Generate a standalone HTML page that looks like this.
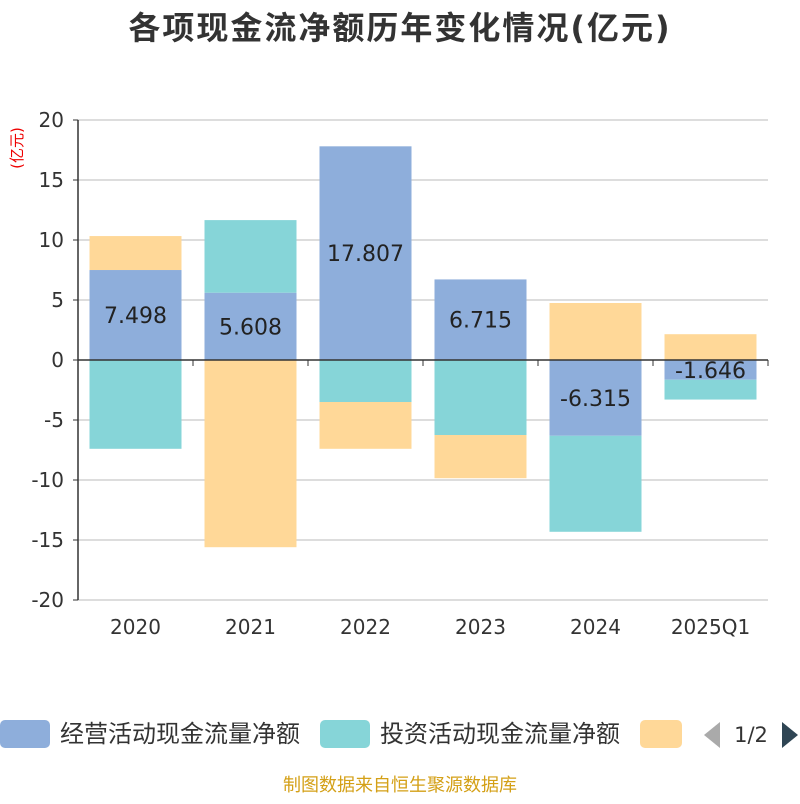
<!DOCTYPE html>
<html><head><meta charset="utf-8">
<style>
body{margin:0;background:#fff;width:800px;height:800px;overflow:hidden;font-family:"DejaVu Sans","Noto Sans CJK SC",sans-serif;}
</style></head>
<body>
<svg id="chart" width="800" height="800" xmlns="http://www.w3.org/2000/svg" font-family="DejaVu Sans, Noto Sans CJK SC, sans-serif">
<text x="400" y="39" text-anchor="middle" font-size="32" letter-spacing="2" font-weight="bold" fill="#333">各项现金流净额历年变化情况(亿元)</text>
<text transform="translate(22,148) rotate(-90)" text-anchor="middle" font-size="15" fill="#e00">(亿元)</text>
<g id="grid"></g><g id="bars"></g><g id="labels"></g><g id="axes"></g>
<g>
<rect x="0" y="720" width="50" height="28" rx="5" fill="#8eaedb"/>
<text x="60" y="742" font-size="24" fill="#333">经营活动现金流量净额</text>
<rect x="320" y="720" width="50" height="28" rx="5" fill="#86d5d8"/>
<text x="380" y="742" font-size="24" fill="#333">投资活动现金流量净额</text>
<rect x="640" y="720" width="42" height="28" rx="5" fill="#ffd898"/>
<polygon points="720,722 720,748 704,735" fill="#aaa"/>
<text x="751" y="742" text-anchor="middle" font-size="21" fill="#333">1/2</text>
<polygon points="782,722 782,748 798,735" fill="#2f4554"/>
</g>
<text x="400" y="791" text-anchor="middle" font-size="18" fill="#d4a017">制图数据来自恒生聚源数据库</text>
</svg>
<script>
const categories=["2020","2021","2022","2023","2024","2025Q1"];
const operating=[7.498,5.608,17.807,6.715,-6.315,-1.646];
const investing=[-7.4,6.05,-3.5,-6.25,-8.0,-1.65];
const financing=[2.83,-15.6,-3.9,-3.6,4.75,2.15];
const yTicks=[20,15,10,5,0,-5,-10,-15,-20];
const NS="http://www.w3.org/2000/svg";
const x0=78,x1=768,yTop=120,yBot=600,yMax=20,yMin=-20;
const bw=(x1-x0)/categories.length;
function y(v){return yTop+(yMax-v)/(yMax-yMin)*(yBot-yTop);}
function xc(i){return x0+bw*(i+0.5);}
function mk(tag,attrs,parent){const e=document.createElementNS(NS,tag);for(const k in attrs)e.setAttribute(k,attrs[k]);document.getElementById(parent).appendChild(e);return e;}
yTicks.forEach(t=>{
 const l=mk('line',{x1:x0,x2:x1,y1:y(t),y2:y(t),stroke:'#bbb','stroke-width':1},'grid');
 
 
 const tx=mk('text',{x:64,y:y(t)+7,'text-anchor':'end','font-size':20,fill:'#333'},'axes');
 tx.textContent=t;
 
 
 const tk=mk('line',{x1:x0-5,x2:x0,y1:y(t),y2:y(t),stroke:'#333'},'axes');
 
 
});
const ya=mk('line',{x1:x0,x2:x0,y1:yTop,y2:yBot,stroke:'#333','stroke-width':1.5},'axes');


const xa=mk('line',{x1:x0,x2:x1,y1:y(0),y2:y(0),stroke:'#333','stroke-width':1.5},'axes');


for(let i=0;i<=categories.length;i++){
 const tk=mk('line',{x1:x0+bw*i,x2:x0+bw*i,y1:y(0),y2:y(0)+6,stroke:'#333'},'axes');
 
 
}
const series=[[operating,'#8eaedb','operating'],[investing,'#86d5d8','investing'],[financing,'#ffd898','financing']];
const w=92;
categories.forEach((c,i)=>{
 let pos=0,neg=0;
 series.forEach(([arr,col,nm])=>{
  const v=arr[i];let a,b;
  if(v>=0){a=pos;b=pos+v;pos=b;}else{a=neg;b=neg+v;neg=b;}
  const top=y(Math.max(a,b)),bot=y(Math.min(a,b));
  const r=mk('rect',{x:xc(i)-w/2,y:top,width:w,height:bot-top,fill:col},'bars');
  
  
 });
 const v=operating[i];
 const t=mk('text',{x:xc(i),y:y(v/2)+8,'text-anchor':'middle','font-size':22,fill:'#222'},'labels');
 t.textContent=v.toFixed(3);
 
 
 const xl=mk('text',{x:xc(i),y:634,'text-anchor':'middle','font-size':20,fill:'#333'},'axes');
 xl.textContent=c;
 
 
});
</script>
</body></html>
